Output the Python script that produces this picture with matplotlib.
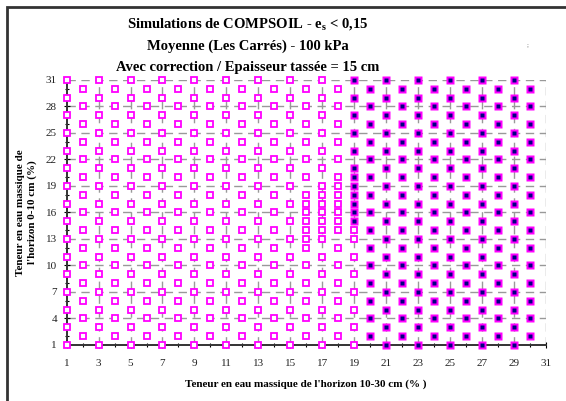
# coding:utf8

"""
Simulations COMPSOIL : grille des teneurs en eau des deux horizons
"""
from matplotlib import pyplot as plt
from matplotlib.patches import Rectangle

plt.rcParams['font.family'] = ['Liberation Serif', 'DejaVu Serif']
plt.rcParams['mathtext.fontset'] = 'custom'
plt.rcParams['mathtext.rm'] = 'Liberation Serif'
plt.rcParams['mathtext.bf'] = 'Liberation Serif:bold'

# teneurs en eau simulées (%) : horizon 10-30 cm en x, horizon 0-10 cm en y
x_colonnes = [1, 2, 3, 4, 5, 6, 7, 8, 9, 10, 11, 12, 13, 14, 15,
              16, 17, 18, 19, 20, 21, 22, 23, 24, 25, 26, 27, 28, 29, 30]
y_impairs = [1, 3, 5, 7, 9, 11, 13, 15, 17, 19, 21, 23, 25, 27, 29, 31]
y_pairs = [2, 4, 6, 8, 10, 12, 14, 16, 18, 20, 22, 24, 26, 28, 30]

# points ajoutés pour affiner la frontière
x_fins = [16, 16, 16, 17, 17, 17, 18, 18, 18, 19, 19, 19, 19]
y_fins = [13, 15, 17, 14, 16, 18, 15, 17, 19, 14, 16, 18, 20]

# pour chaque colonne : teneur 0-10 cm à partir de laquelle e_s >= 0,15
seuil = [32, 32, 32, 32, 32, 32, 32, 32, 32, 32, 32, 32, 32, 32, 32,
         32, 32, 32, 15, 1, 1, 1, 1, 1, 1, 1, 1, 1, 1, 1]

x_ticks = [1, 3, 5, 7, 9, 11, 13, 15, 17, 19, 21, 23, 25, 27, 29, 31]
y_ticks = [1, 4, 7, 10, 13, 16, 19, 22, 25, 28, 31]

# séparation des points ouverts / pleins
pts = []
for x in x_colonnes:
    for y in (y_impairs if x % 2 == 1 else y_pairs):
        pts.append((x, y))
pts += list(zip(x_fins, y_fins))

ouv_x, ouv_y, plein_x, plein_y = [], [], [], []
for x, y in pts:
    if y >= seuil[x_colonnes.index(x)]:
        plein_x.append(x)
        plein_y.append(y)
    else:
        ouv_x.append(x)
        ouv_y.append(y)

fig = plt.figure(figsize=(5.66, 4.01), dpi=100)
ax = fig.add_axes([0.1178, 0.1397, 0.8463, 0.6608])

# grille en pointillés
for x in x_ticks[1:]:
    ax.axvline(x, color='#999999', lw=1, ls=(0, (6, 4)), zorder=1)
for y in y_ticks[1:]:
    ax.axhline(y, color='#999999', lw=1, ls=(0, (6, 4)), zorder=1)

ax.plot(ouv_x, ouv_y, linestyle='none', marker='s', markersize=4.3,
        markerfacecolor='white', markeredgecolor='#FF00FF',
        markeredgewidth=1.3, clip_on=False, zorder=3)
ax.plot(plein_x, plein_y, linestyle='none', marker='s', markersize=5.8,
        markerfacecolor='#FF00FF', markeredgecolor='none',
        clip_on=False, zorder=3)
ax.plot(plein_x, plein_y, linestyle='none', marker='s', markersize=2.3,
        markerfacecolor='#000080', markeredgecolor='none',
        clip_on=False, zorder=4)

ax.set_xlim(1, 31)
ax.set_ylim(1, 31)
ax.set_xticks(x_ticks)
ax.set_yticks(y_ticks)
ax.set_xticks(x_colonnes, minor=True)
ax.set_yticks(x_colonnes, minor=True)
ax.tick_params(which='major', direction='inout', length=4, width=0.8,
               labelsize=8, pad=8, colors='black', labelcolor='#222222')
ax.tick_params(which='minor', direction='inout', length=3, width=0.8)
ax.tick_params(axis='y', pad=5)

for s in ['top', 'right']:
    ax.spines[s].set_visible(False)
for s in ['left', 'bottom']:
    ax.spines[s].set_linewidth(1.4)
    ax.spines[s].set_color('#333333')
    ax.spines[s].set_zorder(2)

ax.set_xlabel("Teneur en eau massique de l'horizon 10-30 cm (% )",
              fontsize=8, fontweight='bold', labelpad=8)
ax.set_ylabel("Teneur en eau massique de\nl'horizon 0-10 cm (%)",
              fontsize=8, fontweight='bold', labelpad=6, linespacing=1.4)

fig.text(0.438, 0.930, r"Simulations de COMPSOIL - e$_\mathbf{s}$ < 0,15",
         ha='center', va='baseline', fontsize=10.5, fontweight='bold')
fig.text(0.438, 0.876, "Moyenne (Les Carrés) - 100 kPa",
         ha='center', va='baseline', fontsize=10.5, fontweight='bold')
fig.text(0.438, 0.823, "Avec correction / Epaisseur tassée = 15 cm",
         ha='center', va='baseline', fontsize=10.5, fontweight='bold')
fig.text(0.931, 0.885, ";", fontsize=5, color='#555555')

# cadre du graphique
fig.patches.append(Rectangle((7 / 566, -0.05), 1.1, 1.05 - 7 / 401,
                             transform=fig.transFigure, fill=False,
                             edgecolor='#333333', lw=2))

fig.savefig('out.png', dpi=100)
